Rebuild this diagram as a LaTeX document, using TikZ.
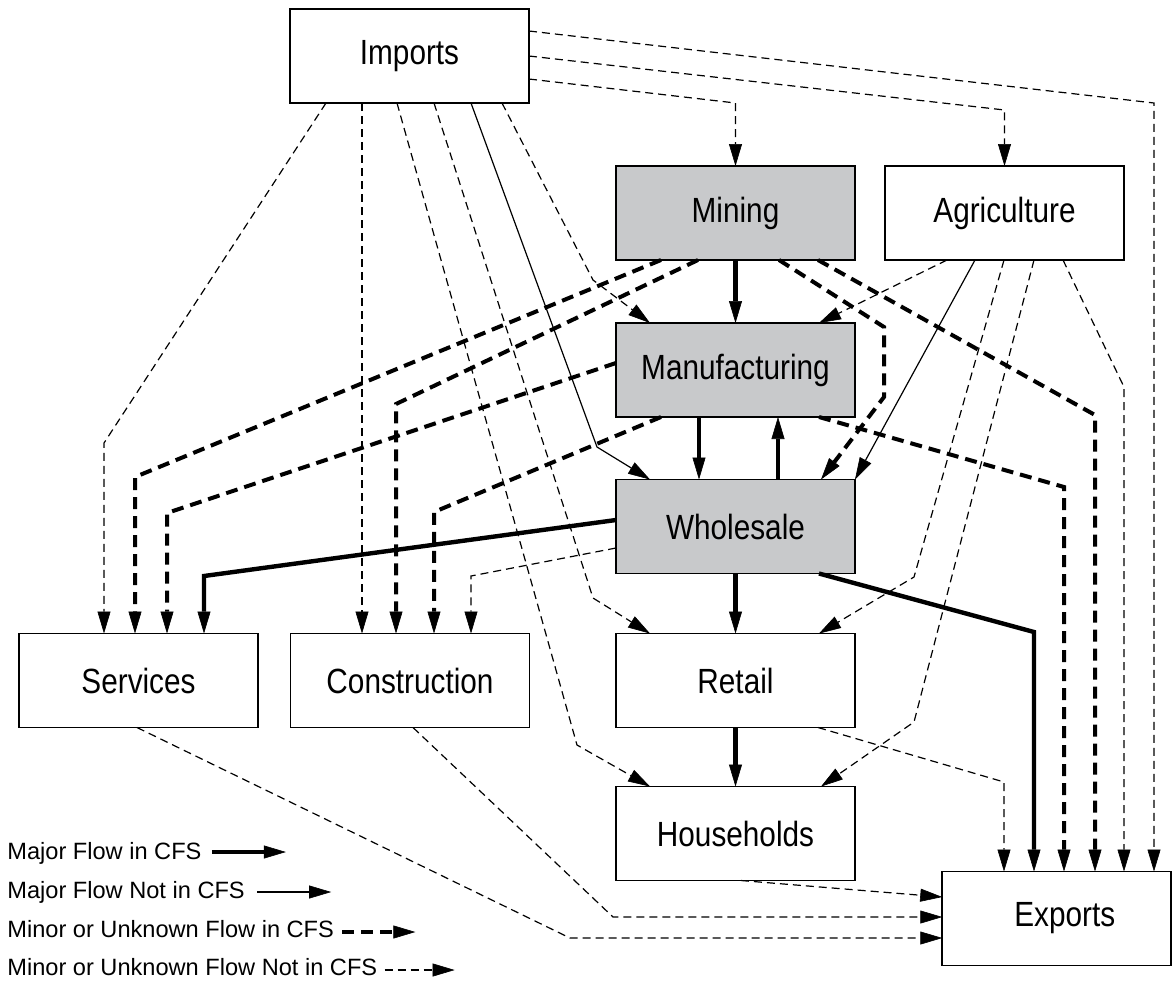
\documentclass[tikz,border=0pt]{standalone}
\usepackage{fontspec}
\setmainfont{Liberation Sans}
\newfontfamily\labelfont{Liberation Sans}[FakeStretch=0.85]
\usetikzlibrary{arrows.meta,calc}
\definecolor{sectorgray}{RGB}{200,201,203}

\tikzset{
  sector/.style={draw, line width=0.8pt, minimum width=119.5pt, minimum height=47pt,
    inner sep=0pt, outer sep=0pt, font=\labelfont\fontsize{17.5}{20}\selectfont},
  shaded/.style={sector, fill=sectorgray},
  tip/.style={-{Triangle[length=11pt,width=6.5pt,line width=0.3pt]}},
  majin/.style={tip, line width=2.2pt},
  majout/.style={tip, line width=0.6pt},
  minin/.style={tip, line width=2pt, dash pattern=on 6pt off 3.5pt},
  minout/.style={tip, line width=0.6pt, dash pattern=on 4pt off 2.5pt},
  legendtext/.style={anchor=base west, inner sep=0pt, font=\fontsize{11.8}{14}\selectfont},
}

\begin{document}
\begin{tikzpicture}[x=0.5pt, y=-0.5pt]
\useasboundingbox (0,0) rectangle (1173,981);
\clip (0,0) rectangle (1173,981);

% sectors
\node[sector] (imp)  at (409.5,56)    {Imports};
\node[shaded] (mine) at (735.5,213)   {Mining};
\node[sector] (agri) at (1004.5,213)  {Agriculture};
\node[shaded] (mfg)  at (735.5,370)   {Manufacturing};
\node[shaded] (whs)  at (735.5,526.5) {Wholesale};
\node[sector] (svc)  at (138.5,680.5) {Services};
\node[sector] (con)  at (410,680.5)   {Construction};
\node[sector] (ret)  at (735.5,680.5) {Retail};
\node[sector] (hh)   at (735.5,833.5) {Households};
\node[sector, minimum width=114.5pt] (exp) at (1056.75,918.5) {\hspace*{8pt}Exports};

% flows out of Imports
\draw[minout] (imp.east |- 0,31) -- (1154,103) -- (1154,0 |- exp.north);
\draw[minout] (imp.east) -- (1004.5,110) -- (agri.north);
\draw[minout] (imp.east |- 0,79) -- (735.5,103) -- (mine.north);
\draw[minout] (326,0 |- imp.south) -- (104,443) -- (104,0 |- svc.north);
\draw[minout] (362,0 |- imp.south) -- (362,0 |- con.north);
\draw[minout] (397,0 |- imp.south) -- (577,745) -- (650,0 |- hh.north);
\draw[minout] (434,0 |- imp.south) -- (593,598) -- (650,0 |- ret.north);
\draw[majout] (471,0 |- imp.south) -- (597,447) -- (650,0 |- whs.north);
\draw[minout] (502,0 |- imp.south) -- (593,280) -- (650,0 |- mfg.north);

% flows out of Mining
\draw[minin] (661,0 |- mine.south) -- (135,477) -- (135,0 |- svc.north);
\draw[minin] (698,0 |- mine.south) -- (396,404) -- (396,0 |- con.north);
\draw[majin] (mine.south) -- (mfg.north);
\draw[minin] (779,0 |- mine.south) -- (884,327) -- (884,397) -- (821,0 |- whs.north);
\draw[minin] (818,0 |- mine.south) -- (1095,415) -- (1095,0 |- exp.north);

% flows out of Agriculture
\draw[minout] (947,0 |- agri.south) -- (819,0 |- mfg.north);
\draw[majout] (975,0 |- agri.south) -- (whs.north east);
\draw[minout] (1004,0 |- agri.south) -- (914,577) -- (819,0 |- ret.north);
\draw[minout] (1034,0 |- agri.south) -- (914,722) -- (821,0 |- hh.north);
\draw[minout] (1063,0 |- agri.south) -- (1124,387) -- (1124,0 |- exp.north);

% flows out of Manufacturing
\draw[minin] (mfg.west |- 0,363) -- (167,513) -- (167,0 |- svc.north);
\draw[minin] (661,0 |- mfg.south) -- (434,512) -- (434,0 |- con.north);
\draw[majin] (699,0 |- mfg.south) -- (699,0 |- whs.north);
\draw[minin] (819,0 |- mfg.south) -- (1064,487) -- (1064,0 |- exp.north);

% flows out of Wholesale
\draw[majin] (778,0 |- whs.north) -- (778,0 |- mfg.south);
\draw[majin] (whs.west |- 0,520) -- (204,576) -- (204,0 |- svc.north);
\draw[minout] (whs.west |- 0,548) -- (471,576) -- (471,0 |- con.north);
\draw[majin] (whs.south) -- (ret.north);
\draw[majin] (819,0 |- whs.south) -- (1034,632) -- (1034,0 |- exp.north);

% flows out of Retail, Households, Construction, Services
\draw[majin] (ret.south) -- (hh.north);
\draw[minout] (818,0 |- ret.south) -- (1004,782) -- (1004,0 |- exp.north);
\draw[minout] (741,0 |- hh.south) -- (exp.west |- 0,897);
\draw[minout] (413,0 |- con.south) -- (613,917) -- (exp.west |- 0,917);
\draw[minout] (137,0 |- svc.south) -- (570,938) -- (exp.west |- 0,938);

% legend
\node[legendtext] (lg1) at (7,859) {Major Flow in CFS};
\node[legendtext] (lg2) at (7,898) {Major Flow Not in CFS};
\node[legendtext] (lg3) at (7,937) {Minor or Unknown Flow in CFS};
\node[legendtext] (lg4) at (7,975) {Minor or Unknown Flow Not in CFS};
\draw[majin]  (lg1.base east) ++(10,-7) -- ++(74,0);
\draw[majout] (lg2.base east) ++(12,-6) -- ++(74,0);
\draw[minin]  (lg3.base east) ++(8,-5) -- ++(73,0);
\draw[minout] (lg4.base east) ++(7,-5) -- ++(70,0);
\end{tikzpicture}
\end{document}
